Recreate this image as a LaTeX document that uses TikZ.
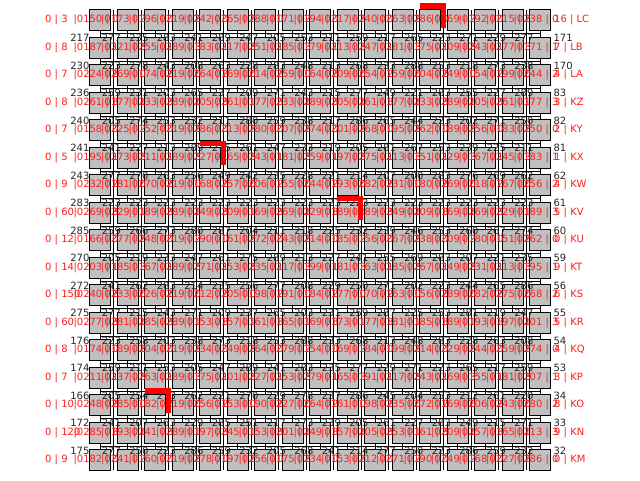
\documentclass[tikz,border=0pt]{standalone}
\usepackage{fontspec}
\setmainfont{DejaVu Sans}
\begin{document}
\begin{tikzpicture}[x=1pt,y=-1pt,
  cell/.style={draw=black,fill={rgb,255:red,192;green,192;blue,192},minimum size=20pt,inner sep=0pt,line width=0.8pt},
  wire/.style={draw=black,line width=0.8pt},
  redlab/.style={text={rgb,255:red,255;green,30;blue,30},font=\fontsize{10}{12}\selectfont,inner sep=0pt},
  blklab/.style={text=black!85,font=\fontsize{10}{12}\selectfont,inner sep=0pt},
  hilite/.style={fill=red,draw=none}]
\useasboundingbox (0,0) rectangle (640,480);
% boxes
\foreach \r in {0,...,16}{
  \foreach \c in {0,...,16}{
    \node[cell] (b-\r-\c) at ({100+27.5*\c},{20+27.5*\r}) {};
  }
}
% gap lines
\foreach \c in {0,...,15}{
  \coordinate (gt-\c) at ({113.75+27.5*\c},10);
  \coordinate (gb-\c) at ({113.75+27.5*\c},470);
  \draw[wire] (gt-\c) -- (gb-\c);
}
% bars and stems
\foreach \r [evaluate=\r as \s using int(\r+1)] in {0,...,15}{
  \coordinate (ja-\r) at (100,{33.75+27.5*\r});
  \coordinate (jb-\r) at (540,{33.75+27.5*\r});
  \draw[wire] (ja-\r) -- (jb-\r);
  \foreach \c in {0,...,16}{
    \draw[wire] (b-\r-\c.south) -- (b-\s-\c.north);
  }
}
% redraw boxes over lines
\foreach \r in {0,...,16}{
  \foreach \c in {0,...,16}{
    \path[cell] (b-\r-\c.south west) rectangle (b-\r-\c.north east);
  }
}
% black numbers above boxes
\foreach \r in {1,...,16}{
  \foreach \c in {1,...,16}{
    \pgfmathtruncatemacro\nn{200+mod(29*\r+41*\c+7*\r*\c,90)}
    \node[blklab,anchor=base east] (k-\r-\c) at ([xshift=4pt,yshift=-4.5pt]b-\r-\c.north west) {\nn};
  }
}
\foreach \r/\v in {1/217,2/230,3/236,4/240,5/241,6/243,7/283,8/285,9/270,10/272,11/275,12/176,13/174,14/166,15/172,16/175}{
  \node[blklab,anchor=base east] (kl-\r) at ([yshift=-4.5pt]b-\r-0.north west) {\v};
}
\foreach \r/\v in {1/171,2/170,3/83,4/82,5/81,6/62,7/61,8/60,9/59,10/56,11/55,12/54,13/53,14/34,15/33,16/32}{
  \node[blklab,anchor=base west] (kr-\r) at ([xshift=3pt,yshift=-4.5pt]b-\r-16.north east) {\v};
}
% red labels on boxes
\foreach \r in {0,...,16}{
  \foreach \c in {0,...,16}{
    \pgfmathtruncatemacro\nn{150+mod(37*\r+23*\c+11*\r*\c,140)}
    \pgfmathtruncatemacro\kk{mod(\r+2*\c,4)}
    \node[redlab] (t-\r-\c) at ([xshift=-4pt]b-\r-\c.center) {|0\nn{} | \kk};
  }
}
% row labels
\foreach \r/\v in {0/3,1/8,2/7,3/8,4/7,5/5,6/9,7/60,8/12,9/14,10/150,11/60,12/8,13/7,14/10,15/120,16/9}{
  \node[redlab,anchor=west] (L-\r) at ([xshift=-1pt]46,{20+27.5*\r}) {0 | \v};
}
\foreach \r/\v/\w in {0/16/LC,1/7/LB,2/4/LA,3/3/KZ,4/2/KY,5/1/KX,6/4/KW,7/5/KV,8/0/KU,9/9/KT,10/6/KS,11/5/KR,12/4/KQ,13/3/KP,14/8/KO,15/9/KN,16/0/KM}{
  \node[redlab,anchor=west] (R-\r) at (554,{20+27.5*\r}) {\v{} | \w};
}
% red highlights
\foreach \r/\c in {0/12,5/4,7/9,14/2}{
  \fill[hilite] ([yshift=6.5pt]b-\r-\c.north west) rectangle ([xshift=5.5pt,yshift=1pt]b-\r-\c.north east);
  \fill[hilite] ([xshift=0.5pt,yshift=6.5pt]b-\r-\c.north east) rectangle ([xshift=5.5pt,yshift=-18pt]b-\r-\c.north east);
}
\end{tikzpicture}
\end{document}
